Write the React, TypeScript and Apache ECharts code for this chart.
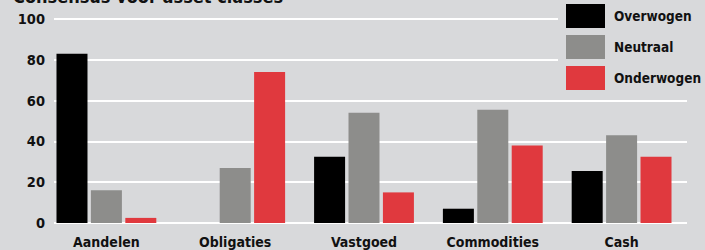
import React, { useEffect, useRef } from "react";
import * as echarts from "echarts";

const categories = ["Aandelen", "Obligaties", "Vastgoed", "Commodities", "Cash"];
const overwogen = [83, 0, 32.5, 7, 25.5];
const neutraal = [16, 27, 54, 55.5, 43];
const onderwogen = [2.5, 74, 15, 38, 32.5];
const seriesNames = ["Overwogen", "Neutraal", "Onderwogen"];
const colors = ["#000000", "#8d8d8b", "#e0393e"];
const title = "Consensus voor asset classes";

const FONT = "'DejaVu Sans Condensed', 'Liberation Sans Narrow', sans-serif";
const BG = "#d8d9db";

export default function App() {
  const ref = useRef<HTMLDivElement>(null);
  useEffect(() => {
    if (!ref.current) return;
    const chart = echarts.init(ref.current, null, { renderer: "svg" });
    const values = [overwogen, neutraal, onderwogen];
    chart.setOption({
      animation: false,
      backgroundColor: BG,
      textStyle: { fontFamily: FONT },
      grid: [
        { left: 54, right: 18, top: 19, bottom: 27 },
        { left: 42, right: 19, top: 19, bottom: 27 },
      ],
      xAxis: [
        { type: "value", gridIndex: 0, min: 0, max: 1, show: false },
        {
          type: "category",
          gridIndex: 1,
          data: categories,
          axisLine: { show: false },
          axisTick: { show: false },
          axisLabel: {
            interval: 0,
            color: "#111",
            fontFamily: FONT,
            fontWeight: "bold",
            fontSize: 14,
            margin: 12,
          },
        },
      ],
      yAxis: [
        {
          type: "value",
          gridIndex: 0,
          min: 0,
          max: 100,
          interval: 20,
          axisLine: { show: false },
          axisTick: { show: false },
          splitLine: { lineStyle: { color: "#ffffff", width: 2 } },
          axisLabel: {
            color: "#111",
            fontFamily: FONT,
            fontWeight: "bold",
            fontSize: 14.5,
            margin: 9,
            padding: [6, 0, 0, 0],
          },
        },
        { type: "value", gridIndex: 1, min: 0, max: 100, show: false },
      ],
      legend: {
        orient: "vertical",
        left: 558,
        top: 0,
        padding: [4, 20, 6, 8],
        backgroundColor: BG,
        itemWidth: 39,
        itemHeight: 24,
        itemGap: 7,
        icon: "rect",
        data: seriesNames,
        textStyle: {
          color: "#111",
          fontFamily: FONT,
          fontWeight: "bold",
          fontSize: 13.5,
          padding: [0, 0, 0, 4],
        },
      },
      graphic: [
        {
          type: "text",
          left: 13,
          top: -13,
          style: {
            text: title,
            fill: "#111",
            font: `bold 18px ${FONT}`,
          },
        },
      ],
      series: seriesNames.map((name, i) => ({
        name,
        type: "bar",
        xAxisIndex: 1,
        yAxisIndex: 1,
        data: values[i],
        barWidth: 31,
        barGap: "11%",
        itemStyle: { color: colors[i] },
      })),
    });
    return () => chart.dispose();
  }, []);
  return (
    <div
      ref={ref}
      style={{ position: "fixed", left: 0, top: 0, width: 705, height: 250 }}
    />
  );
}
